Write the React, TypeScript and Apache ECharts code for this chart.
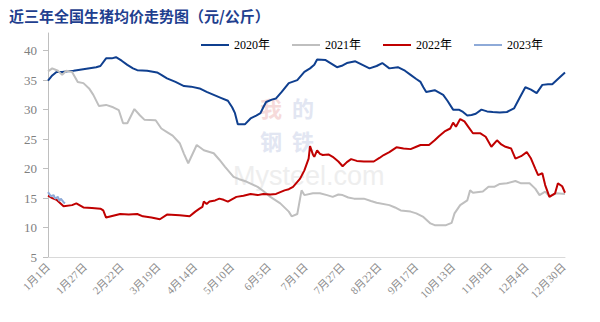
import React, { useEffect, useRef } from "react";
import * as echarts from "echarts";

const TITLE = "近三年全国生猪均价走势图（元/公斤）";
const SERIES_NAMES = ["2020年", "2021年", "2022年", "2023年"];
const COLORS = ["#0f3f8f", "#bfbfbf", "#c00000", "#8eaad8"];
const Y_TICKS = [5, 10, 15, 20, 25, 30, 35, 40];
const MONTH_DAYS = [31, 29, 31, 30, 31, 30, 31, 31, 30, 31, 30, 31];

// day-of-year index (0 = 1月1日), price
const DATA_2020: [number, number][] = [
  [0, 34.9], [3, 35.8], [6, 36.4], [10, 36.4], [14, 36.5], [18, 36.6], [26, 36.9], [34, 37.2], [37, 37.4],
  [41, 38.7], [45, 38.7], [48, 38.9], [52, 38.3], [56, 37.6], [60, 37.0], [63, 36.7], [70, 36.6],
  [77, 36.3], [80, 35.9], [84, 35.3], [90, 34.7], [96, 34.0], [101, 33.9], [107, 33.6], [112, 33.0],
  [117, 32.5], [122, 32.0], [127, 31.5], [130, 30.4], [132, 29.4], [134, 27.5], [139, 27.5], [143, 28.5],
  [147, 29.0], [150, 29.4], [152, 30.4], [154, 31.3], [158, 31.7], [161, 31.9], [165, 33.0], [170, 34.5],
  [176, 35.0], [181, 36.4], [185, 37.0], [188, 37.6], [190, 38.5], [196, 38.4], [200, 37.8], [204, 37.2],
  [208, 37.5], [211, 37.9], [217, 38.2], [222, 37.6], [227, 37.0], [232, 37.4], [236, 37.9], [241, 37.0],
  [247, 37.2], [252, 36.6], [256, 35.9], [260, 35.2], [263, 34.7], [265, 33.8], [267, 33.0], [273, 33.3],
  [279, 32.5], [282, 31.5], [286, 30.0], [290, 30.0], [293, 29.6], [296, 29.0], [299, 29.1], [302, 29.3],
  [306, 30.0], [310, 29.7], [314, 29.6], [319, 29.5], [324, 29.6], [329, 30.2], [333, 32.0], [337, 33.8],
  [341, 33.4], [345, 32.8], [349, 34.2], [353, 34.3], [356, 34.3], [360, 35.2], [365, 36.3],
];

const DATA_2021: [number, number][] = [
  [0, 36.5], [3, 37.0], [7, 36.6], [10, 35.9], [13, 36.6], [17, 36.4], [21, 34.7], [25, 34.5], [29, 33.6],
  [32, 32.5], [36, 30.6], [41, 30.8], [46, 30.4], [50, 29.9], [53, 27.7], [56, 27.7], [61, 30.1], [65, 29.0],
  [68, 28.3], [76, 28.2], [80, 26.8], [84, 26.2], [88, 25.6], [93, 24.3], [96, 22.5], [99, 20.9],
  [105, 24.0], [110, 23.1], [117, 22.6], [121, 21.5], [125, 20.3], [131, 18.6], [135, 18.2], [140, 17.8],
  [148, 16.9], [152, 16.2], [157, 15.2], [164, 14.1], [170, 12.7], [172, 11.9], [176, 12.3], [179, 16.3],
  [181, 15.5], [187, 15.8], [192, 15.8], [197, 15.5], [201, 15.2], [205, 15.6], [208, 15.5], [212, 15.1],
  [216, 14.9], [223, 14.9], [228, 14.5], [232, 14.2], [241, 13.8], [245, 13.4], [249, 12.9], [256, 12.7],
  [260, 12.4], [265, 11.8], [270, 10.7], [273, 10.4], [281, 10.4], [285, 10.8], [287, 12.4], [291, 13.8],
  [296, 14.6], [298, 16.3], [300, 15.9], [307, 16.1], [311, 16.9], [315, 16.9], [319, 17.4], [324, 17.5],
  [330, 17.9], [334, 17.5], [340, 17.5], [344, 16.6], [347, 15.5], [351, 16.1], [354, 15.3], [359, 15.8],
  [365, 15.7],
];

const DATA_2022: [number, number][] = [
  [0, 15.4], [3, 15.0], [6, 14.7], [11, 13.6], [17, 13.8], [20, 14.1], [25, 13.4], [31, 13.3], [37, 13.2],
  [39, 12.9], [41, 11.7], [46, 12.0], [51, 12.3], [57, 12.2], [63, 12.3], [67, 11.9], [73, 11.7],
  [79, 11.4], [84, 12.2], [93, 12.1], [100, 11.9], [104, 12.7], [107, 13.2], [109, 13.5], [110, 14.4],
  [112, 14.0], [114, 14.4], [118, 14.6], [121, 14.9], [124, 14.7], [127, 14.4], [133, 15.2], [138, 15.4],
  [143, 15.7], [148, 15.5], [152, 15.7], [157, 15.6], [161, 15.7], [167, 16.3], [170, 16.5], [173, 16.9],
  [178, 18.3], [181, 19.7], [184, 21.7], [185, 23.8], [187, 22.4], [188, 22.0], [190, 23.1], [192, 22.5],
  [194, 22.3], [198, 22.4], [201, 22.0], [205, 21.2], [208, 20.4], [211, 21.1], [214, 21.6], [218, 21.3],
  [223, 21.2], [230, 21.2], [234, 21.8], [237, 22.3], [241, 22.8], [246, 23.6], [251, 23.4], [256, 23.3],
  [260, 23.7], [263, 24.0], [269, 24.0], [273, 24.8], [276, 25.5], [280, 26.3], [284, 26.8], [286, 27.8],
  [288, 27.1], [291, 28.4], [294, 28.0], [297, 27.0], [300, 26.0], [305, 26.0], [309, 25.4], [313, 23.7],
  [317, 24.8], [320, 24.1], [323, 23.7], [327, 23.4], [330, 21.7], [334, 22.1], [338, 22.8], [341, 21.7],
  [344, 20.0], [346, 18.9], [349, 19.2], [351, 17.2], [354, 15.2], [358, 15.8], [360, 17.5], [363, 17.0],
  [365, 15.9],
];

const DATA_2023: [number, number][] = [
  [0, 16.0], [2, 15.3], [4, 15.5], [5, 14.9], [7, 15.2], [8, 14.5], [9, 14.9], [11, 14.3], [12, 14.1],
];

const CATEGORIES: string[] = [];
MONTH_DAYS.forEach((n, m) => {
  for (let d = 1; d <= n; d++) CATEGORIES.push(`${m + 1}月${d}日`);
});

const SERIES_DATA = [DATA_2020, DATA_2021, DATA_2022, DATA_2023];

const wmChar = (text: string, left: number, top: number, fill: string) => ({
  type: "text",
  left,
  top,
  z: 0,
  style: { text, fontSize: 22, lineHeight: 22, fontWeight: "bold", fontFamily: "Noto Sans CJK SC", fill },
});

export default function App() {
  const ref = useRef<HTMLDivElement>(null);
  useEffect(() => {
    if (!ref.current) return;
    const chart = echarts.init(ref.current, undefined, { renderer: "svg" });
    chart.setOption({
      animation: false,
      backgroundColor: "#ffffff",
      title: {
        text: TITLE,
        left: 4,
        top: 3,
        textStyle: {
          fontFamily: "Noto Sans CJK SC",
          fontSize: 15,
          fontWeight: "bold",
          color: "#1f3f8f",
        },
      },
      legend: {
        left: 196,
        top: 34,
        itemWidth: 28,
        itemHeight: 2,
        itemGap: 22,
        icon: "rect",
        textStyle: {
          fontFamily: "Liberation Serif, Noto Sans CJK SC",
          fontSize: 12,
          color: "#000000",
        },
        data: SERIES_NAMES,
      },
      graphic: [
        wmChar("我", 260, 96, "#f6dada"),
        wmChar("的", 292, 96, "#e2e6f2"),
        wmChar("钢", 260, 129, "#e2e6f2"),
        wmChar("铁", 292, 129, "#e2e6f2"),
        {
          type: "text",
          left: 233,
          top: 162,
          z: 0,
          style: { text: "Mysteel.com", fontSize: 27, lineHeight: 24, fontFamily: "Liberation Sans", fill: "#eeeeee" },
        },
      ],
      grid: { left: 48, right: 35, top: 33, bottom: 65 },
      xAxis: {
        type: "category",
        data: CATEGORIES,
        boundaryGap: false,
        axisLine: { show: true, lineStyle: { color: "#d9d9d9", width: 1 } },
        axisTick: { show: false },
        axisLabel: {
          interval: 25,
          rotate: 45,
          margin: 8,
          fontSize: 11,
          fontFamily: "Liberation Serif, Noto Sans CJK SC",
          color: "#8c8c8c",
        },
        splitLine: { show: false },
      },
      yAxis: {
        type: "value",
        min: 5,
        max: 43,
        interval: 5,
        axisLine: { show: true, lineStyle: { color: "#bfbfbf", width: 1 } },
        axisTick: { show: true, length: 5, lineStyle: { color: "#bfbfbf" }, customValues: Y_TICKS },
        axisLabel: {
          customValues: Y_TICKS,
          margin: 11,
          fontSize: 13,
          fontFamily: "Liberation Serif",
          color: "#808080",
        },
        splitLine: { show: false },
      },
      series: SERIES_NAMES.map((name, i) => ({
        name,
        type: "line",
        data: SERIES_DATA[i],
        showSymbol: false,
        symbol: "none",
        color: COLORS[i],
        lineStyle: { color: COLORS[i], width: 2 },
        z: 2 + i,
      })),
    });
    return () => chart.dispose();
  }, []);
  return <div ref={ref} style={{ width: 600, height: 322, margin: -8 }} />;
}
